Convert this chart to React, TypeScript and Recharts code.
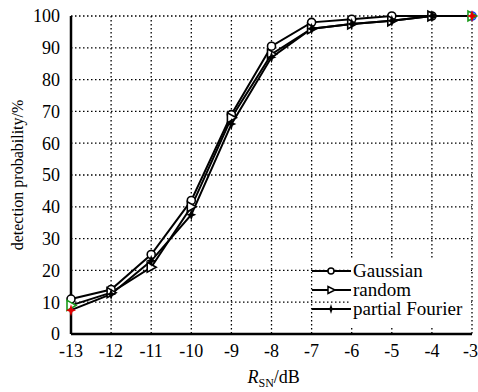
import { LineChart, Line, XAxis, YAxis, CartesianGrid } from "recharts";

const snr = [-13, -12, -11, -10, -9, -8, -7, -6, -5, -4, -3];
const gaussian = [11, 14, 25, 42, 69, 90.5, 98, 99, 100, 100, 100];
const random = [9, 13, 21, 40, 68, 88, 96, 97.5, 98.5, 100, 100];
const partialFourier = [7.5, 12.5, 23, 37.5, 66, 87, 96, 97.5, 98.5, 100, 100];
const yTicks = [0, 10, 20, 30, 40, 50, 60, 70, 80, 90, 100];

const data = snr.map((x, i) => ({
    x,
    gaussian: gaussian[i],
    random: random[i],
    partialFourier: partialFourier[i],
}));

const last = snr.length - 1;
const FONT = "'Liberation Serif', 'Times New Roman', serif";

const CircleDot = (props: any) => {
    const { cx, cy, index } = props;
    const stroke = index === last ? "#1a3cff" : "#000";
    return <circle key={`g-${index}`} cx={cx} cy={cy} r={4} fill="#fff" stroke={stroke} strokeWidth={1.6} />;
};

const TriangleDot = (props: any) => {
    const { cx, cy, index } = props;
    const stroke = index === 0 || index === last ? "#1a9a1a" : "#000";
    return (
        <polygon
            key={`r-${index}`}
            points={`${cx - 4},${cy - 5} ${cx - 4},${cy + 5} ${cx + 5},${cy}`}
            fill="#fff"
            stroke={stroke}
            strokeWidth={1.6}
        />
    );
};

const StarDot = (props: any) => {
    const { cx, cy, index } = props;
    const fill = index === 0 || index === last ? "#e00000" : "#000";
    return (
        <polygon
            key={`p-${index}`}
            points={`${cx},${cy - 6} ${cx + 1.5},${cy - 1.5} ${cx + 5},${cy} ${cx + 1.5},${cy + 1.5} ${cx},${cy + 6} ${cx - 1.5},${cy + 1.5} ${cx - 5},${cy} ${cx - 1.5},${cy - 1.5}`}
            fill={fill}
        />
    );
};

const legendItems = [
    { label: "Gaussian", icon: "circle" },
    { label: "random", icon: "triangle" },
    { label: "partial Fourier", icon: "star" },
];

// legend sits inside the plot, bottom right; only the text part has a white box
const LegendBox = () => (
    <div style={{ position: "absolute", left: 312, top: 261, fontFamily: FONT }}>
        <div style={{ position: "absolute", left: 39, top: -2, width: 120, height: 69, background: "#fff" }} />
        {legendItems.map((it) => (
            <div key={it.label} style={{ position: "relative", display: "flex", alignItems: "center", height: 19 }}>
                <svg width={39} height={19} style={{ flex: "none" }}>
                    <line x1={0} y1={10} x2={39} y2={10} stroke="#000" strokeWidth={2} />
                    {it.icon === "circle" && <circle cx={19} cy={10} r={3} fill="#fff" stroke="#000" strokeWidth={1.5} />}
                    {it.icon === "triangle" && (
                        <polygon points="16,6.5 16,13.5 23,10" fill="#fff" stroke="#000" strokeWidth={1.5} />
                    )}
                    {it.icon === "star" && (
                        <polygon points="19,5 20.2,8.8 23,10 20.2,11.2 19,15 17.8,11.2 15,10 17.8,8.8" fill="#000" />
                    )}
                </svg>
                <span style={{ fontSize: 19, color: "#000", marginLeft: 2, lineHeight: "19px", whiteSpace: "nowrap" }}>
                    {it.label}
                </span>
            </div>
        ))}
    </div>
);

const XLabel = (props: any) => {
    const { viewBox } = props;
    const cx = viewBox.x + viewBox.width / 2;
    return (
        <text x={cx - 24} y={383} fontSize={18} fill="#000" fontFamily={FONT}>
            <tspan fontStyle="italic">R</tspan>
            <tspan fontSize={12} dy={4}>SN</tspan>
            <tspan dy={-4}>/dB</tspan>
        </text>
    );
};

export default function App() {
    return (
        <div style={{ position: "absolute", left: 0, top: 0, width: 478, height: 392, fontFamily: FONT }}>
            <LineChart
                width={478}
                height={392}
                data={data}
                margin={{ top: 16, right: 6, bottom: 0, left: 0 }}
                style={{ fontFamily: FONT }}
            >
                <CartesianGrid stroke="#000" strokeDasharray="1.5 2.5" strokeWidth={1.3} />
                <XAxis
                    dataKey="x"
                    type="number"
                    domain={[-13, -3]}
                    ticks={snr}
                    height={58}
                    axisLine={{ stroke: "#000", strokeWidth: 2.5 }}
                    tickLine={false}
                    tick={{ fill: "#000", fontSize: 18, fontFamily: FONT }}
                    tickMargin={4}
                    label={<XLabel />}
                />
                <XAxis
                    xAxisId="top"
                    orientation="top"
                    dataKey="x"
                    type="number"
                    domain={[-13, -3]}
                    height={0}
                    tick={false}
                    tickLine={false}
                    axisLine={{ stroke: "#000", strokeWidth: 1.5 }}
                />
                <YAxis
                    domain={[0, 100]}
                    ticks={yTicks}
                    width={71}
                    interval={0}
                    axisLine={{ stroke: "#000", strokeWidth: 2.5 }}
                    tickLine={false}
                    tick={{ fill: "#000", fontSize: 18, fontFamily: FONT }}
                    tickMargin={5}
                    label={{
                        value: "detection probability/%",
                        angle: -90,
                        position: "insideLeft",
                        dx: 12,
                        style: { fill: "#000", fontSize: 16, fontFamily: FONT, textAnchor: "middle" },
                    }}
                />
                <YAxis
                    yAxisId="right"
                    orientation="right"
                    domain={[0, 100]}
                    ticks={yTicks}
                    width={0}
                    tick={false}
                    tickLine={false}
                    axisLine={{ stroke: "#000", strokeWidth: 1.5 }}
                />
                <Line
                    dataKey="gaussian"
                    stroke="#000"
                    strokeWidth={2}
                    dot={<CircleDot />}
                    isAnimationActive={false}
                />
                <Line
                    dataKey="random"
                    stroke="#000"
                    strokeWidth={2}
                    dot={<TriangleDot />}
                    isAnimationActive={false}
                />
                <Line
                    dataKey="partialFourier"
                    stroke="#000"
                    strokeWidth={2}
                    dot={<StarDot />}
                    isAnimationActive={false}
                />
            </LineChart>
            <LegendBox />
        </div>
    );
}
